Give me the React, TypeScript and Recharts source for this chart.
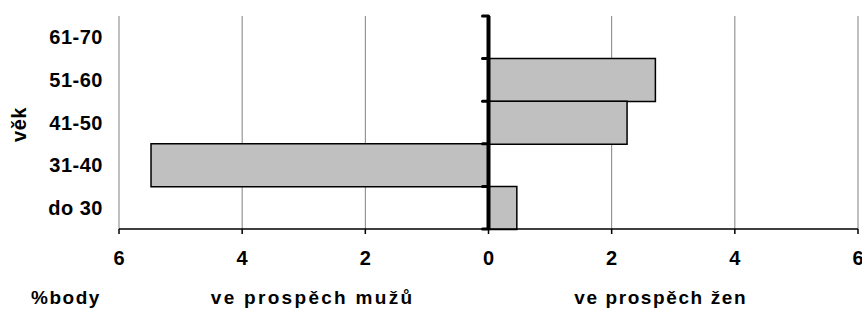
import React from 'react';
import { BarChart, Bar, XAxis, YAxis, CartesianGrid, ReferenceLine } from 'recharts';

const categories = ['61-70', '51-60', '41-50', '31-40', 'do 30'];
const values: (number | null)[] = [null, 2.71, 2.25, -5.48, 0.46];
const xTicks = [-6, -4, -2, 0, 2, 4, 6];
const yAxisTitle = 'věk';
const unitLabel = '%body';
const leftLabel = 've prospěch mužů';
const rightLabel = 've prospěch žen';

const data = categories.map((c, i) => ({ cat: c, value: values[i] }));

const FONT = 'Liberation Sans, Arial, sans-serif';

const ZeroAxis = (props: any) => {
  const { x1, y1, x2, y2 } = props;
  const n = categories.length;
  const ticks = [];
  for (let i = 0; i <= n; i++) {
    const y = y1 + ((y2 - y1) * i) / n;
    ticks.push(
      <line key={i} x1={x1 - 6} y1={y} x2={x1} y2={y} stroke="#000" strokeWidth={3} strokeLinecap="round" />
    );
  }
  return (
    <g>
      <line x1={x1} y1={y1} x2={x2} y2={y2} stroke="#000" strokeWidth={4} />
      {ticks}
    </g>
  );
};

const VekLabel = (props: any) => {
  const vb = props.viewBox || { x: 0, y: 16, width: 119, height: 213 };
  const cx = vb.x + 19;
  const cy = vb.y + vb.height / 2 + 2;
  return (
    <text
      x={cx}
      y={cy}
      transform={`rotate(-90 ${cx} ${cy})`}
      textAnchor="middle"
      dominantBaseline="central"
      fontFamily={FONT}
      fontWeight="bold"
      fontSize={20}
      letterSpacing={0.5}
      fill="#000"
    >
      {yAxisTitle}
    </text>
  );
};

const BottomLabels = (props: any) => {
  const vb = props.viewBox || { x: 119, y: 229, width: 739, height: 82 };
  const y = vb.y + 75;
  const common = {
    fontFamily: FONT,
    fontWeight: 'bold' as const,
    fontSize: 19,
    fill: '#000',
    textAnchor: 'middle' as const,
  };
  return (
    <g>
      <text x={vb.x - 53} y={y} {...common} letterSpacing={1.5}>{unitLabel}</text>
      <text x={vb.x + vb.width * 0.262} y={y} {...common} letterSpacing={2.3}>{leftLabel}</text>
      <text x={vb.x + vb.width * 0.733} y={y} {...common} letterSpacing={1.6}>{rightLabel}</text>
    </g>
  );
};

export default function App() {
  return (
    <div style={{ position: 'absolute', left: 0, top: 0, background: '#fff' }}>
      <BarChart
        width={862}
        height={311}
        data={data}
        layout="vertical"
        margin={{ top: 16, right: 4, bottom: 0, left: 0 }}
        barCategoryGap={0}
      >
        <CartesianGrid horizontal={false} stroke="#808080" strokeWidth={1} />
        <XAxis
          type="number"
          domain={[-6, 6]}
          ticks={xTicks}
          interval={0}
          height={82}
          tickFormatter={(v: number) => String(Math.abs(v))}
          axisLine={{ stroke: '#000', strokeWidth: 1.5 }}
          tickLine={{ stroke: '#000', strokeWidth: 1.5 }}
          tickSize={5}
          tickMargin={17}
          tick={{ fontFamily: FONT, fontWeight: 'bold', fontSize: 20, fill: '#000' }}
          label={<BottomLabels />}
        />
        <XAxis
          xAxisId="top"
          orientation="top"
          type="number"
          domain={[-6, 6]}
          height={0}
          tick={false}
          tickLine={false}
          axisLine={{ stroke: '#999999', strokeWidth: 2 }}
        />
        <YAxis
          type="category"
          dataKey="cat"
          width={119}
          axisLine={false}
          tickLine={false}
          tickSize={0}
          tickMargin={16}
          tick={{ fontFamily: FONT, fontWeight: 'bold', fontSize: 20, fill: '#000', letterSpacing: 0.5 }}
          label={<VekLabel />}
        />
        <Bar dataKey="value" fill="#c0c0c0" stroke="#000" strokeWidth={1.5} isAnimationActive={false} />
        <ReferenceLine x={0} shape={ZeroAxis} />
      </BarChart>
    </div>
  );
}
